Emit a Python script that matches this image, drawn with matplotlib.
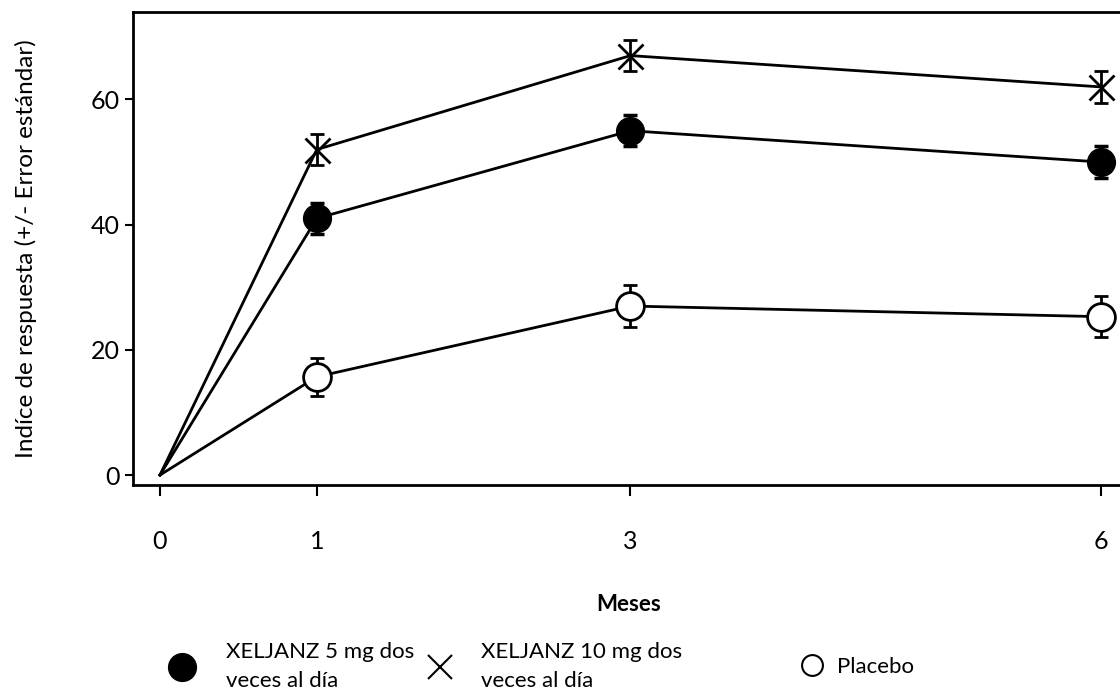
import matplotlib.pyplot as plt
from matplotlib.lines import Line2D

# Data
months = [0, 1, 3, 6]
xel5 = [0, 41, 55, 50]
xel5_err = [0, 2.5, 2.5, 2.5]
xel10 = [0, 52, 67, 62]
xel10_err = [0, 2.5, 2.5, 2.5]
placebo = [0, 15.7, 27, 25.3]
placebo_err = [0, 3, 3.3, 3.3]

labels = ["XELJANZ 5 mg dos\nveces al día", "XELJANZ 10 mg dos\nveces al día", "Placebo"]

plt.rcParams["font.family"] = ["Lato", "DejaVu Sans"]

fig = plt.figure(figsize=(11.2, 6.93), dpi=100)
ax = fig.add_axes([0.119, 0.300, 0.885, 0.683])

err_kw = dict(color="black", ecolor="black", elinewidth=2, capsize=5, capthick=2.5,
              linewidth=2, markevery=[1, 2, 3], errorevery=(1, 1))

ax.errorbar(months, xel10, yerr=xel10_err, marker="x", markersize=18, markeredgewidth=2, **err_kw)
ax.errorbar(months, xel5, yerr=xel5_err, marker="o", markersize=20, markerfacecolor="black", **err_kw)
ax.errorbar(months, placebo, yerr=placebo_err, marker="o", markersize=20,
            markerfacecolor="white", markeredgewidth=2, **err_kw)

ax.set_xlim(-0.17, 6.15)
ax.set_ylim(-1.6, 74)
ax.set_xticks(months)
ax.set_yticks([0, 20, 40, 60])
ax.tick_params(axis="y", labelsize=18, width=1.5, length=6, direction="out", pad=4)
ax.tick_params(axis="x", labelsize=18, width=1.5, length=8, direction="out", pad=24)
for side in ["left", "bottom", "top", "right"]:
    ax.spines[side].set_linewidth(2)

ax.set_ylabel("Indíce de respuesta (+/- Error estándar)", fontsize=17.5, labelpad=38)
ax.set_xlabel("Meses", fontsize=16, fontweight="bold", labelpad=30)

handles = [
    Line2D([], [], linestyle="none", marker="o", markersize=20, color="black"),
    Line2D([], [], linestyle="none", marker="x", markersize=17, markeredgewidth=1.5, color="black"),
    Line2D([], [], linestyle="none", marker="o", markersize=15, markerfacecolor="white",
           markeredgecolor="black", markeredgewidth=1.5),
]
# three separate legend entries, placed where they sit in the original
anchors = [(0.138, -0.013), (0.368, -0.013), (0.70, 0.007)]
pads = [1.2, 1.1, 0.4]
for h, lab, anc, pad in zip(handles, labels, anchors, pads):
    leg = fig.legend([h], [lab], loc="lower left", bbox_to_anchor=anc, frameon=False,
                     fontsize=16, handletextpad=pad, handlelength=1.5, borderpad=0)
    for t in leg.get_texts():
        t.set_linespacing(1.55)

plt.savefig("out.png", dpi=100)
